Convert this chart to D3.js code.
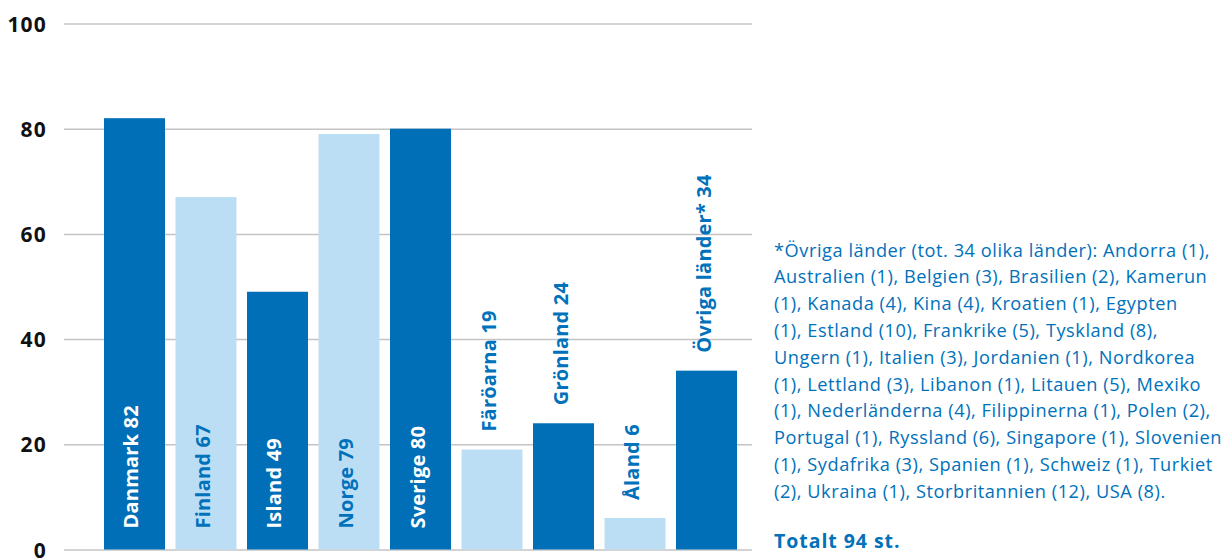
<!DOCTYPE html>
<html><head><meta charset="utf-8">
<script src="https://cdn.jsdelivr.net/npm/d3@7"></script>
<style>html,body{margin:0;padding:0;background:#fff;overflow:hidden}</style>
</head><body>
<svg id="c" width="1228" height="559"></svg>
<script>
const categories = ["Danmark","Finland","Island","Norge","Sverige","Färöarna","Grönland","Åland","Övriga länder*"];
const values = [82,67,49,79,80,19,24,6,34];
const shades = ["dark","light","dark","light","dark","light","dark","light","dark"];
const yTicks = [0,20,40,60,80,100];
const footnoteLines = [
 "*Övriga länder (tot. 34 olika länder): Andorra (1),",
 "Australien (1), Belgien (3), Brasilien (2), Kamerun",
 "(1), Kanada (4), Kina (4), Kroatien (1), Egypten",
 "(1), Estland (10), Frankrike (5), Tyskland (8),",
 "Ungern (1), Italien (3), Jordanien (1), Nordkorea",
 "(1), Lettland (3), Libanon (1), Litauen (5), Mexiko",
 "(1), Nederländerna (4), Filippinerna (1), Polen (2),",
 "Portugal (1), Ryssland (6), Singapore (1), Slovenien",
 "(1), Sydafrika (3), Spanien (1), Schweiz (1), Turkiet",
 "(2), Ukraina (1), Storbritannien (12), USA (8)."
];
const totalText = "Totalt 94 st.";

const DARK = "#006fb7", LIGHT = "#bcdef5", TEXTBLUE = "#0071bb";
const svg = d3.select("#c");
const font = "'Open Sans', sans-serif";

const y = d3.scaleLinear().domain([0,100]).range([549.5,23.5]);
const x = d3.scaleBand().domain(categories).range([104,737]).paddingInner(0.147).paddingOuter(0);

// gridlines
const axis = d3.axisLeft(y).tickValues(yTicks).tickSize(-688).tickPadding(17).tickFormat(d3.format("d"));
const g = svg.append("g").attr("transform","translate(64,0)").call(axis);
g.select(".domain").remove();
g.selectAll(".tick line").attr("stroke","#c4c4c4").attr("stroke-width",1.5);
g.selectAll(".tick text").attr("font-family",font).attr("font-weight",700).attr("font-size",21)
  .attr("letter-spacing",1.2).attr("fill","#111").attr("dy","0.36em");

// bars
const data = categories.map((c,i)=>({c, v:values[i], s:shades[i]}));
svg.append("g").selectAll("rect").data(data).join("rect")
  .attr("x",d=>x(d.c)).attr("width",x.bandwidth())
  .attr("y",d=>y(d.v)).attr("height",d=>y(0)-y(d.v))
  .attr("fill",d=>d.s==="dark"?DARK:LIGHT);

// labels
const lg = svg.append("g");
data.forEach(d=>{
  const cx = x(d.c)+x.bandwidth()/2 + 4;
  const t = lg.append("text").attr("font-family",font).attr("font-weight",700).attr("font-size",20)
    .attr("letter-spacing",0.2).text(d.c+" "+d.v);
  const len = t.node().getComputedTextLength();
  const h = y(0)-y(d.v);
  let baseY, fill;
  if (h > len + 40) { baseY = y(0) - 21; fill = d.s==="dark" ? "#fff" : TEXTBLUE; }
  else { baseY = y(d.v) - 18; fill = TEXTBLUE; }
  t.attr("fill",fill).attr("transform",`translate(${cx},${baseY}) rotate(-90)`);
});

// footnote
const ft = svg.append("text").attr("font-family",font).attr("font-size",18.2).attr("letter-spacing",0.55).attr("fill",TEXTBLUE);
footnoteLines.forEach((l,i)=>{
  ft.append("tspan").attr("x",774).attr("y",256.5+i*26.8).text(l);
});
svg.append("text").attr("x",774).attr("y",548).attr("font-family",font).attr("font-weight",700)
  .attr("font-size",19.5).attr("letter-spacing",0.95).attr("fill",TEXTBLUE).text(totalText);
</script>
</body></html>
